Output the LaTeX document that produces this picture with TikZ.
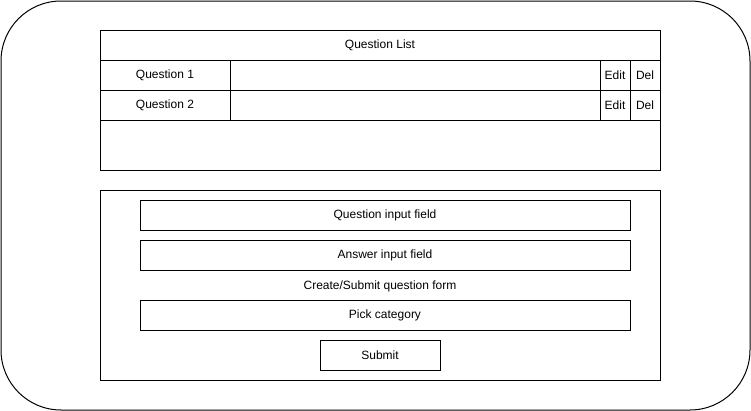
\documentclass[tikz,border=0pt]{standalone}
\usepackage{fontspec}
\setmainfont{Liberation Sans}
\begin{document}
\begin{tikzpicture}[x=0.75pt,y=-0.75pt,
  every node/.style={font=\fontsize{9}{11}\selectfont},
  cell/.style={draw=black,line width=0.75pt,inner sep=0pt,fill=white},
  row/.style={cell,minimum height=22.5pt}]
\useasboundingbox (0,0) rectangle (751,411);
\node[cell,rounded corners=45pt,minimum width=561.75pt,minimum height=306.75pt] (outer) at (375.5,205.5) {};
% question list
\node[row,minimum width=420pt] (header) at (380,45) {Question List};
\node[row,minimum width=97.5pt] (q1) at (165,75) {Question 1};
\node[row,minimum width=277.5pt] (q1mid) at (415,75) {};
\node[row,minimum width=22.5pt] (q1edit) at (615,75) {Edit};
\node[row,minimum width=22.5pt] (q1del) at (645,75) {Del};
\node[row,minimum width=97.5pt] (q2) at (165,105) {Question 2};
\node[row,minimum width=277.5pt] (q2mid) at (415,105) {};
\node[row,minimum width=22.5pt] (q2edit) at (615,105) {Edit};
\node[row,minimum width=22.5pt] (q2del) at (645,105) {Del};
\node[cell,minimum width=420pt,minimum height=37.5pt] (empty) at (380,145) {};
% form
\node[cell,minimum width=420pt,minimum height=142.5pt] (form) at (380,285) {};
\node[row,minimum width=367.5pt] (qin) at (385,215) {Question input field};
\node[row,minimum width=367.5pt] (ain) at (385,255) {Answer input field};
\node (formlabel) at (380,286) {Create/Submit question form};
\node[row,minimum width=367.5pt] (pick) at (385,315) {Pick category};
\node[row,minimum width=90pt] (submit) at (380,355) {Submit};
\end{tikzpicture}
\end{document}
